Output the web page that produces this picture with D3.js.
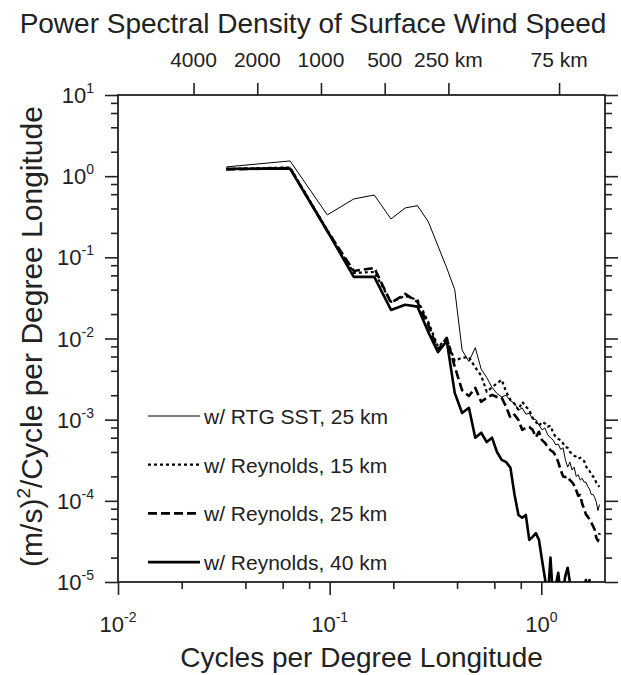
<!DOCTYPE html>
<html>
<head>
<meta charset="utf-8">
<script src="https://cdn.jsdelivr.net/npm/d3@7"></script>
<style>
  body { margin: 0; background: #fff; }
  svg { font-family: "Liberation Sans", Arial, Helvetica, sans-serif; }
</style>
</head>
<body>
<div id="chart"></div>
<script>
// frequency (cycles per degree longitude)
let freq = [0.0325, 0.065, 0.0975, 0.13, 0.1625, 0.195, 0.2275, 0.26, 0.2925, 0.325,
  0.3575, 0.39, 0.4225, 0.455, 0.4875, 0.52, 0.5525, 0.585, 0.6175, 0.65,
  0.6825, 0.715, 0.7475, 0.78, 0.8125, 0.845, 0.8775, 0.91, 0.9425, 0.975,
  1.0075, 1.04, 1.0725, 1.105, 1.1375, 1.17, 1.2025, 1.235, 1.2675, 1.3,
  1.3325, 1.365, 1.3975, 1.43, 1.4625, 1.495, 1.5275, 1.56, 1.5925, 1.625,
  1.6575, 1.69, 1.7225, 1.755, 1.7875, 1.82, 1.8525, 1.885];

let psd_rtg25 = [1.30, 1.54, 0.333, 0.524, 0.586, 0.297, 0.406, 0.433, 0.275, 0.138,
  0.074, 0.040, 0.0072, 0.0052, 0.0077, 0.0042, 0.0033, 0.0025, 0.0021, 0.0019,
  0.0020, 0.0017, 0.0016, 0.0013, 0.0014, 0.00117, 0.0012, 0.00102, 0.0010, 0.00086,
  0.00075, 0.00079, 0.00065, 0.0006, 0.00056, 0.00049, 0.0005, 0.00043, 0.00045, 0.00032,
  0.00026, 0.0003, 0.00024, 0.00026, 0.0002, 0.00021, 0.00018, 0.00019, 0.00017, 0.00017,
  0.00015, 0.00014, 0.00012, 0.00012, 0.00011, 0.000096, 0.000076, 0.00009];

let psd_rey15 = [1.23, 1.28, 0.217, 0.0643, 0.066, 0.0282, 0.0335, 0.0299, 0.016, 0.0079,
  0.0099, 0.0053, 0.0058, 0.0059, 0.0044, 0.0035, 0.0022, 0.0025, 0.0028, 0.0031,
  0.0022, 0.00175, 0.00157, 0.00132, 0.00166, 0.00145, 0.00132, 0.00105, 0.00094, 0.00084,
  0.00094, 0.0009, 0.00082, 0.00084, 0.00069, 0.00061, 0.00058, 0.00056, 0.00051, 0.00046,
  0.00045, 0.0004, 0.00038, 0.00036, 0.00035, 0.00033, 0.00034, 0.00032, 0.00031, 0.00027,
  0.00024, 0.000234, 0.00021, 0.0002, 0.00019, 0.000166, 0.000155, 0.000149];

let psd_rey25 = [1.21, 1.26, 0.211, 0.068, 0.074, 0.0275, 0.0354, 0.0282, 0.0147, 0.0072,
  0.0102, 0.0045, 0.0023, 0.00196, 0.00247, 0.00166, 0.00186, 0.00202, 0.0019, 0.00186,
  0.00144, 0.00105, 0.00115, 0.00099, 0.00075, 0.00079, 0.00081, 0.00075, 0.00061, 0.00071,
  0.00056, 0.00052, 0.00046, 0.00042, 0.0004, 0.00036, 0.0003, 0.00024, 0.0002, 0.000196,
  0.0002, 0.00018, 0.00017, 0.000155, 0.000135, 0.000115, 0.000118, 0.000092, 0.00008, 0.000068,
  0.000064, 0.000059, 0.000054, 0.000049, 0.000044, 0.000035, 0.000032, 0.00004];

let psd_rey40 = [1.23, 1.24, 0.211, 0.0574, 0.0574, 0.0225, 0.026, 0.0247, 0.012, 0.0068,
  0.0093, 0.00214, 0.00121, 0.0014, 0.0006, 0.00069, 0.00053, 0.0006, 0.0004, 0.00032,
  0.0003, 0.000255, 0.000119, 0.000067, 0.000062, 0.000067, 0.000033, 0.000036, 0.00004, 0.000033,
  0.0000188, 0.0000112, 0.000006, 0.00002, 0.000006, 0.000009, 0.000013, 0.000007, 0.000008, 0.000012,
  0.000015, 0.00001, 0.000006, 0.000005, 0.000007, 0.000006, 0.000008, 0.000009, 0.000008, 0.0000106,
  0.000008, 0.0000106, 0.000006, 0.000005, 0.000007, 0.000005, 0.000005, 0.000005];

let legend_labels = ["w/ RTG SST, 25 km", "w/ Reynolds, 15 km", "w/ Reynolds, 25 km", "w/ Reynolds, 40 km"];

// wavelength ticks along the top (km), and km in one degree of longitude
let km_ticks = [4000, 2000, 1000, 500, 250, 75];
let km_labels = ["4000", "2000", "1000", "500", "250 km", "75 km"];
let km_per_deg = 91;

let x_major = [0.01, 0.1, 1];
let y_major = [10, 1, 0.1, 0.01, 0.001, 0.0001, 0.00001];

let width = 621, height = 675;
let margin = {top: 95, right: 16, bottom: 93, left: 118};
let w = width - margin.left - margin.right,
  h = height - margin.top - margin.bottom;

let svg = d3.select("#chart").append("svg")
  .attr("width", width)
  .attr("height", height);

let x = d3.scaleLog().domain([0.01, 2]).range([0, w]);
let y = d3.scaleLog().domain([1e-5, 10]).range([h, 0]);

let g = svg.append("g").attr("transform", "translate(" + margin.left + "," + margin.top + ")");

svg.append("defs").append("clipPath").attr("id", "plot-clip")
  .append("rect").attr("width", w).attr("height", h);

// minor ticks at 2,4,6,8 of each decade
function minors(lo, hi) {
  let out = [];
  for (let e = lo; e < hi; e++) {
    [2, 4, 6, 8].forEach(m => out.push(m * Math.pow(10, e)));
  }
  return out;
}
let x_minor = minors(-2, 1).filter(v => v < 2);
let y_minor = minors(-5, 1);

let axis_color = "#222";

function drawTicks(axisFn, scale, values, size) {
  return axisFn(scale).tickValues(values).tickSize(size).tickFormat("");
}

// bottom axis
g.append("g").attr("transform", "translate(0," + h + ")")
  .call(drawTicks(d3.axisBottom, x, x_minor, 7));
g.append("g").attr("transform", "translate(0," + h + ")")
  .call(drawTicks(d3.axisBottom, x, x_major, 13));
// left and right axes
g.append("g").call(drawTicks(d3.axisLeft, y, y_minor, 7));
g.append("g").call(drawTicks(d3.axisLeft, y, y_major, 13));
g.append("g").attr("transform", "translate(" + w + ",0)").call(drawTicks(d3.axisRight, y, y_minor, 7));
g.append("g").attr("transform", "translate(" + w + ",0)").call(drawTicks(d3.axisRight, y, y_major, 13));
// top axis: wavelength
g.append("g").call(drawTicks(d3.axisTop, x, km_ticks.map(k => km_per_deg / k), 12));

g.selectAll(".domain").remove();
g.selectAll(".tick line").attr("stroke", axis_color).attr("stroke-width", 1.6);

g.append("rect")
  .attr("width", w).attr("height", h)
  .attr("fill", "none")
  .attr("stroke", axis_color)
  .attr("stroke-width", 1.8);

// tick labels with exponents
function powLabel(sel, exp) {
  sel.append("tspan").text("10");
  sel.append("tspan").attr("font-size", 14).attr("dy", -10).text(exp);
}

x_major.forEach(v => {
  let t = g.append("text")
    .attr("x", x(v)).attr("y", h + 50)
    .attr("text-anchor", "middle")
    .attr("font-size", 22)
    .attr("fill", "#222");
  powLabel(t, String(Math.round(Math.log10(v))));
});

y_major.forEach(v => {
  let t = g.append("text")
    .attr("x", -24).attr("y", y(v) + 8)
    .attr("text-anchor", "end")
    .attr("font-size", 22)
    .attr("fill", "#222");
  powLabel(t, String(Math.round(Math.log10(v))));
});

km_ticks.forEach((k, i) => {
  g.append("text")
    .attr("x", x(km_per_deg / k)).attr("y", -28)
    .attr("text-anchor", "middle")
    .attr("font-size", 21)
    .attr("fill", "#222")
    .text(km_labels[i]);
});

// titles
svg.append("text")
  .attr("x", 313).attr("y", 33)
  .attr("text-anchor", "middle")
  .attr("font-size", 28)
  .attr("fill", "#222")
  .text("Power Spectral Density of Surface Wind Speed");

svg.append("text")
  .attr("x", margin.left + w / 2).attr("y", 667)
  .attr("text-anchor", "middle")
  .attr("font-size", 28)
  .attr("fill", "#222")
  .text("Cycles per Degree Longitude");

let ytitle = svg.append("text")
  .attr("transform", "translate(42," + (margin.top + h / 2 - 2) + ") rotate(-90)")
  .attr("text-anchor", "middle")
  .attr("font-size", 30)
  .attr("fill", "#222");
ytitle.append("tspan").text("(m/s)");
ytitle.append("tspan").attr("font-size", 19).attr("dy", -12).text("2");
ytitle.append("tspan").attr("dy", 12).text("/Cycle per Degree Longitude");

// series
let series = [
  {values: psd_rtg25, width: 1, dash: null},
  {values: psd_rey15, width: 2.2, dash: "3,3"},
  {values: psd_rey25, width: 2.6, dash: "9,4"},
  {values: psd_rey40, width: 2.6, dash: null}
];

let line = d3.line()
  .x(d => x(d[0]))
  .y(d => y(d[1]));

let plot = g.append("g").attr("clip-path", "url(#plot-clip)");

series.forEach(s => {
  plot.append("path")
    .datum(d3.zip(freq, s.values))
    .attr("d", line)
    .attr("fill", "none")
    .attr("stroke", "#000")
    .attr("stroke-width", s.width)
    .attr("stroke-dasharray", s.dash)
    .attr("stroke-linejoin", "round");
});

// legend
let legend = g.selectAll(".legend")
  .data(series)
  .enter().append("g")
  .attr("class", "legend")
  .attr("transform", (d, i) => "translate(30," + (321 + i * 48.7) + ")");

legend.append("line")
  .attr("x1", 0).attr("x2", 52)
  .attr("stroke", "#000")
  .attr("stroke-width", d => d.width)
  .attr("stroke-dasharray", d => d.dash);

legend.append("text")
  .attr("x", 56).attr("y", 8)
  .attr("font-size", 21)
  .attr("fill", "#222")
  .text((d, i) => legend_labels[i]);
</script>
</body>
</html>
